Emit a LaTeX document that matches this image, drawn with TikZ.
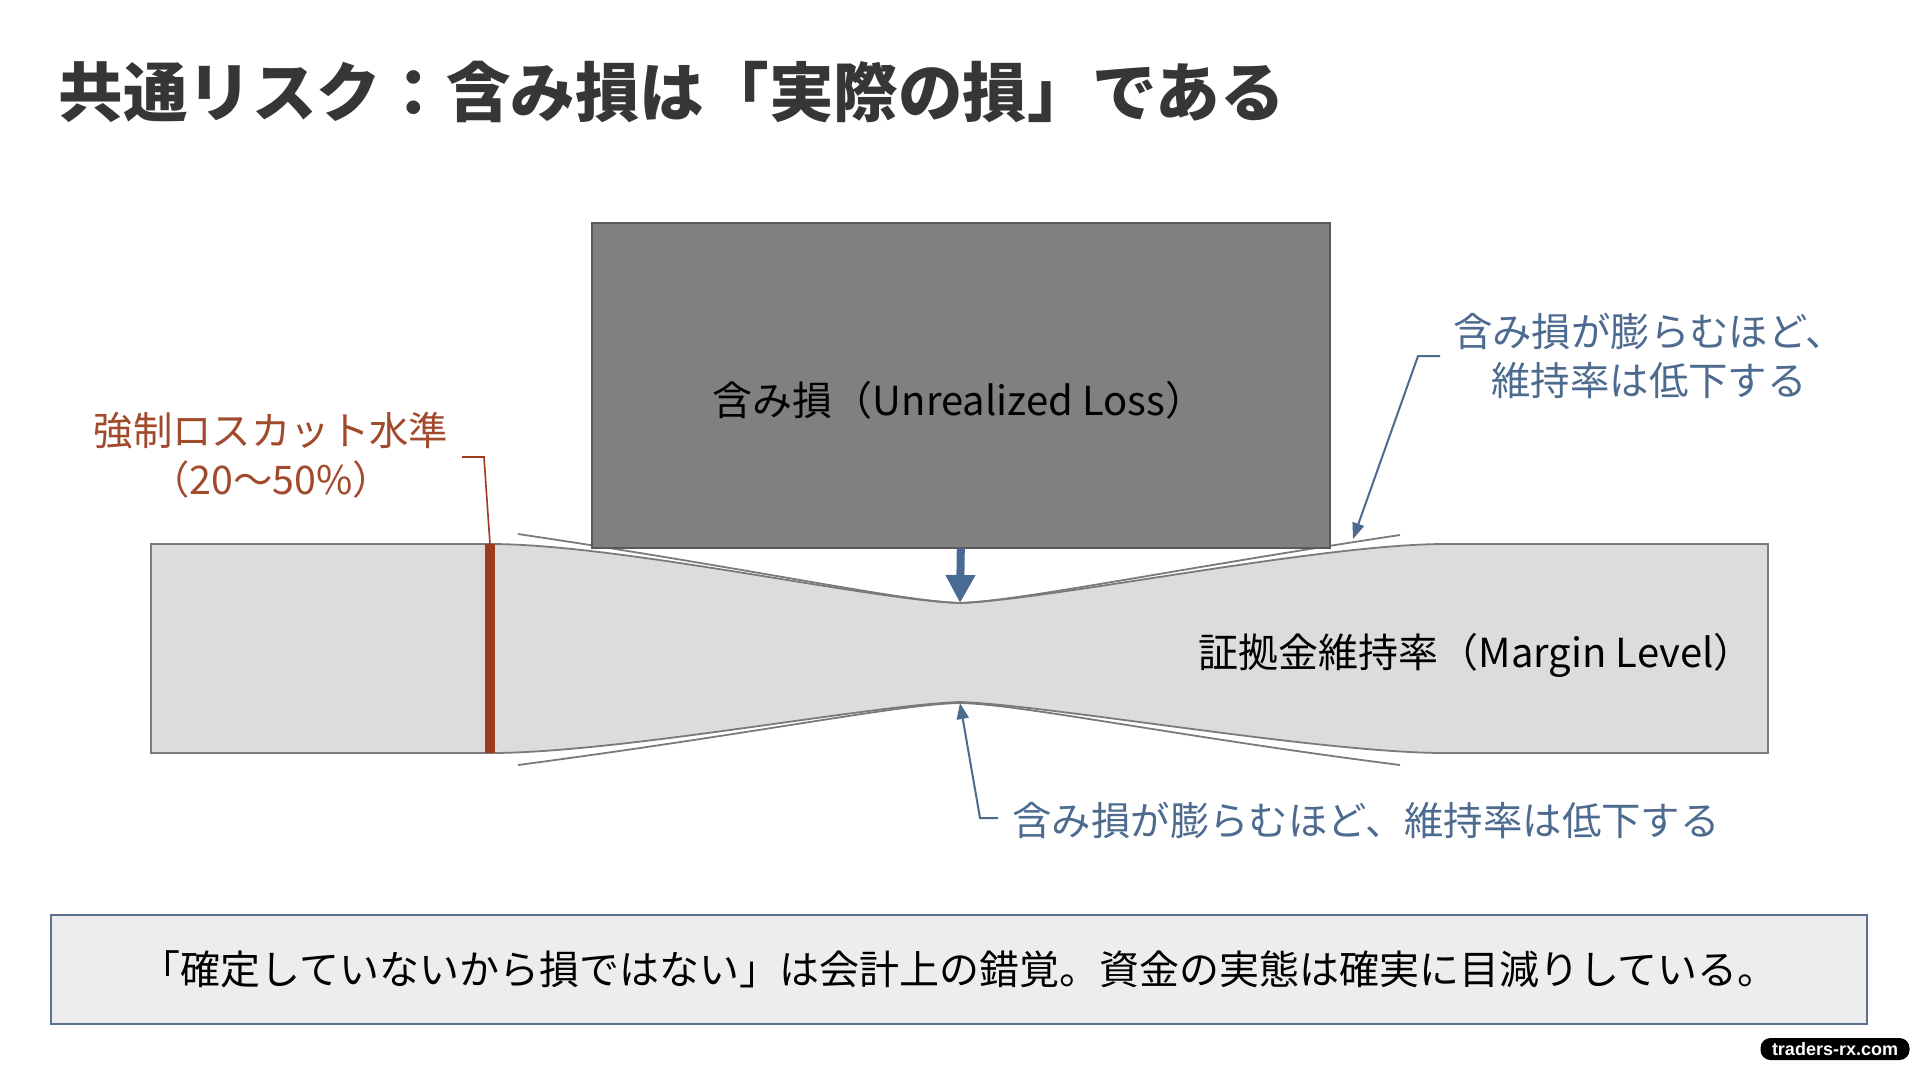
\documentclass[tikz,border=0pt]{standalone}
\usepackage{fontspec}
\setmainfont{Noto Sans CJK JP}
\newfontfamily\wmfont{Liberation Sans}
\usetikzlibrary{arrows.meta}
\definecolor{boxgray}{HTML}{808080}
\definecolor{boxedge}{HTML}{5A5A5A}
\definecolor{bandfill}{HTML}{DCDCDC}
\definecolor{bandedge}{HTML}{7A7A7A}
\definecolor{rust}{HTML}{9E3A1C}
\definecolor{rusttext}{HTML}{A24A2C}
\definecolor{steel}{HTML}{4A6A96}
\definecolor{annot}{HTML}{4D6A8F}
\definecolor{noteedge}{HTML}{5C7090}
\definecolor{notefill}{HTML}{EDEDF0}
\definecolor{titlec}{HTML}{363636}
\tikzset{
  bodytxt/.style={inner sep=0pt, font=\fontsize{20}{25}\selectfont, align=center},
  annottxt/.style={inner sep=0pt, align=center, font=\fontsize{19.7}{24.5}\selectfont, text=annot},
  leader/.style={annot, line width=1pt},
  compress/.style={bandedge, line width=0.9pt},
}
\begin{document}
\begin{tikzpicture}[x=0.5pt,y=-0.5pt]
\useasboundingbox[fill=white] (0,0) rectangle (1920,1072);

% title
\node[inner sep=0pt, anchor=west, text=titlec, font=\fontsize{32.3}{38}\selectfont\bfseries] (title) at (58,92) {共通リスク：含み損は「実際の損」である};

% band (margin level)
\draw[bandedge, fill=bandfill, line width=0.9pt]
  (151,544) -- (490,544) .. controls (620,544) and (870,600) .. (960,603)
  .. controls (1050,600) and (1320,544) .. (1445,544) -- (1768,544) -- (1768,753) -- (1445,753)
  .. controls (1320,753) and (1050,705) .. (960,702)
  .. controls (870,705) and (620,753) .. (490,753) -- (151,753) -- cycle;
\coordinate (necktop) at (960,603);
\coordinate (neckbot) at (960,703);
\coordinate (cuttop) at (490,544);
\coordinate (cutbot) at (490,753);

% compression lines
\draw[compress] (518,534) .. controls (760,570) and (900,601) .. (necktop);
\draw[compress] (necktop) .. controls (1020,601) and (1180,568) .. (1400,535);
\draw[compress] (518,765) .. controls (760,733) and (900,704) .. (neckbot);
\draw[compress] (neckbot) .. controls (1020,704) and (1180,737) .. (1400,765);

% unrealized loss box
\node[draw=boxedge, fill=boxgray, line width=0.8pt, minimum width=369pt, minimum height=162.5pt, anchor=north west, inner sep=0pt] (loss) at (591,222) {};
\node[bodytxt] (losslabel) at (959,400) {含み損（Unrealized Loss）};

% margin level label
\node[bodytxt, anchor=east] (mlabel) at (1754,655) {証拠金維持率（Margin Level）};

% forced stop-out line
\draw[rust, line width=5pt] (cuttop) -- (cutbot);
\node[annottxt, text=rusttext] (cutlabel) at (271,455) {強制ロスカット水準\\（20〜50\%）};
\draw[rust, line width=0.8pt] (462,457) -- (484,457) -- (cuttop);

% pressure arrow
\draw[steel, line width=4pt, -{Triangle[length=14pt, width=14pt]}] (loss.south) -- (necktop);

% annotations
\node[annottxt] (annTR) at (1649,356) {含み損が膨らむほど、\\維持率は低下する};
\coordinate (trtip) at (1353,539);
\draw[leader, -{Triangle[length=8pt, width=6pt]}] (1440,356) -- (1418,356) -- (trtip);

\node[annottxt, anchor=west] (annB) at (1012,820) {含み損が膨らむほど、維持率は低下する};
\draw[leader, -{Triangle[length=8pt, width=6pt]}] (998,818) -- (980,818) -- (neckbot);

% bottom note
\node[draw=noteedge, fill=notefill, line width=1.3pt, minimum width=908pt, minimum height=54.5pt, inner sep=0pt, font=\fontsize{20}{24}\selectfont] (note) at (959,969.5) {「確定していないから損ではない」は会計上の錯覚。資金の実態は確実に目減りしている。};

% watermark
\node[fill=black, rounded corners=5pt, text=white, font=\wmfont\bfseries\fontsize{9}{10}\selectfont, minimum width=74.5pt, minimum height=11pt, inner sep=0pt] (wm) at (1835,1049) {traders-rx.com};
\end{tikzpicture}
\end{document}
